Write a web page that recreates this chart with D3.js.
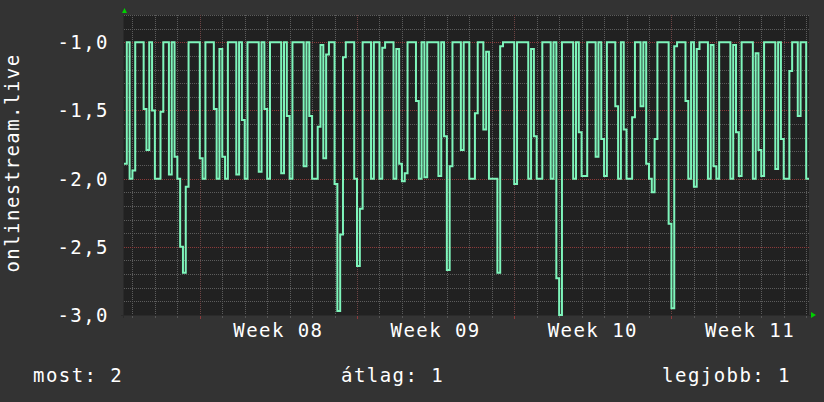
<!DOCTYPE html>
<html><head><meta charset="utf-8">
<script src="https://cdn.jsdelivr.net/npm/d3@7"></script>
<style>html,body{margin:0;padding:0;background:#333333;} svg{display:block}</style>
</head><body><svg id="c" width="824" height="402"></svg>
<script>
// ---- data ----
const startTime = "2024-02-15T15:00:00Z";
const stepHours = 3;
const values = [
 -1.89,-1.0,-2.0,-1.94,-1.0,-1.0,-1.0,-1.49,-1.79,-1.0,
 -1.5,-2.0,-2.0,-1.51,-1.0,-1.0,-1.97,-1.0,-1.84,-2.0,
 -2.5,-2.69,-2.06,-1.0,-1.0,-1.0,-1.0,-1.85,-2.0,-1.0,
 -1.0,-1.0,-1.49,-2.0,-1.05,-1.84,-2.0,-1.0,-1.0,-1.0,
 -1.97,-1.0,-1.57,-2.0,-1.0,-1.0,-1.0,-1.0,-1.95,-1.0,
 -1.49,-2.0,-1.0,-1.0,-1.0,-1.0,-1.96,-1.0,-1.54,-2.0,
 -1.0,-1.0,-1.0,-1.0,-1.91,-1.0,-1.54,-2.0,-2.0,-1.62,
 -1.02,-1.85,-1.09,-1.0,-1.0,-2.04,-2.97,-2.41,-1.11,-1.0,
 -1.0,-1.0,-2.0,-2.64,-2.22,-1.0,-1.0,-1.0,-2.0,-1.0,
 -1.0,-2.0,-1.04,-1.0,-1.0,-1.0,-2.0,-1.05,-1.89,-2.02,
 -1.96,-1.0,-1.0,-1.0,-1.43,-2.0,-1.0,-1.99,-1.0,-1.0,
 -1.0,-1.0,-1.98,-1.0,-1.69,-2.67,-1.91,-1.0,-1.0,-1.0,
 -1.79,-1.0,-1.0,-2.0,-2.0,-1.52,-1.0,-1.0,-1.64,-1.07,
 -2.0,-2.0,-2.0,-2.69,-1.03,-1.0,-1.0,-1.0,-1.0,-2.04,
 -1.0,-1.0,-1.0,-1.0,-2.0,-1.05,-1.69,-2.0,-2.0,-1.0,
 -1.0,-1.0,-2.0,-1.0,-2.73,-3.0,-1.0,-1.0,-1.0,-1.0,
 -2.0,-1.0,-1.66,-1.98,-1.98,-1.0,-1.0,-1.0,-1.84,-1.0,
 -1.71,-1.98,-1.0,-1.0,-1.0,-1.47,-2.0,-1.0,-1.64,-2.0,
 -2.0,-1.55,-1.0,-1.0,-1.47,-1.0,-1.89,-2.0,-2.1,-1.71,
 -1.0,-1.0,-1.0,-1.0,-2.33,-2.95,-1.03,-1.0,-1.0,-1.0,
 -1.43,-2.0,-1.0,-2.06,-1.05,-1.0,-1.0,-1.0,-2.0,-1.02,
 -1.91,-2.0,-1.0,-1.0,-1.0,-1.0,-2.0,-1.02,-1.66,-1.98,
 -1.0,-1.0,-1.0,-1.0,-2.0,-1.08,-1.79,-1.98,-1.0,-1.0,
 -1.0,-1.0,-1.93,-1.0,-1.71,-2.0,-2.0,-1.21,-1.0,-1.0,
 -1.54,-1.0,-1.0,-2.0
];
const yDomain = [-3.0, -0.8];
const yTicks = [-3.0, -2.5, -2.0, -1.5, -1.0];
const yTickLabels = ["-3,0", "-2,5", "-2,0", "-1,5", "-1,0"];
const weekStarts = ["2024-02-19T00:00:00Z", "2024-02-26T00:00:00Z", "2024-03-04T00:00:00Z", "2024-03-11T00:00:00Z"];
const weekLabels = ["Week 08", "Week 09", "Week 10", "Week 11"];
const yTitle = "onlinestream.live";
const legendTexts = ["most: 2", "átlag: 1", "legjobb: 1"];

// ---- layout ----
const W = 824, H = 402;
const plot = {left: 124, right: 809, top: 15, bottom: 315};
const FONT = "'DejaVu Sans Mono', monospace";
const svg = d3.select("#c");

const t0 = new Date(startTime);
const t1 = d3.utcHour.offset(t0, values.length * stepHours);
const x = d3.scaleUtc().domain([t0, t1]).range([plot.left, plot.right]);
const y = d3.scaleLinear().domain(yDomain).range([plot.bottom, plot.top]);

// background
svg.append("rect").attr("width", W).attr("height", H).attr("fill", "#333333");
svg.append("rect").attr("x", plot.left).attr("y", plot.top)
  .attr("width", plot.right - plot.left).attr("height", plot.bottom - plot.top)
  .attr("fill", "#212121");

const grid = svg.append("g").attr("shape-rendering", "crispEdges");
// minor horizontal grid every 0.1
const minorY = d3.range(-30, -7).map(d => d / 10);
grid.selectAll(".hmin").data(minorY).join("line")
  .attr("x1", plot.left).attr("x2", plot.right)
  .attr("y1", d => Math.round(y(d)) + 0.5).attr("y2", d => Math.round(y(d)) + 0.5)
  .attr("stroke", "#5c5c5c").attr("stroke-dasharray", "1,1");
// minor vertical grid every day
const days = d3.utcDay.range(d3.utcDay.ceil(t0), t1);
grid.selectAll(".vmin").data(days).join("line")
  .attr("x1", d => Math.round(x(d)) + 0.5).attr("x2", d => Math.round(x(d)) + 0.5)
  .attr("y1", plot.top).attr("y2", plot.bottom)
  .attr("stroke", "#5c5c5c").attr("stroke-dasharray", "1,1");
// major horizontal
grid.selectAll(".hmaj").data(yTicks.filter(d => d > yDomain[0])).join("line")
  .attr("x1", plot.left).attr("x2", plot.right)
  .attr("y1", d => Math.round(y(d)) + 0.5).attr("y2", d => Math.round(y(d)) + 0.5)
  .attr("stroke", "#8c3a3a").attr("stroke-dasharray", "1,1");
// major vertical (week starts)
const weeks = weekStarts.map(s => new Date(s));
grid.selectAll(".vmaj").data(weeks).join("line")
  .attr("x1", d => Math.round(x(d)) + 0.5).attr("x2", d => Math.round(x(d)) + 0.5)
  .attr("y1", plot.top).attr("y2", plot.bottom)
  .attr("stroke", "#6e4444").attr("stroke-dasharray", "1,1");

// axis lines + small ticks
grid.append("line").attr("x1", plot.left - 0.5).attr("x2", plot.left - 0.5)
  .attr("y1", plot.top).attr("y2", plot.bottom + 3).attr("stroke", "#2a2a2a");
grid.append("line").attr("x1", plot.left - 3).attr("x2", plot.right + 2)
  .attr("y1", plot.bottom + 0.5).attr("y2", plot.bottom + 0.5).attr("stroke", "#2a2a2a");
grid.selectAll(".xt").data(days).join("line")
  .attr("x1", d => Math.round(x(d)) + 0.5).attr("x2", d => Math.round(x(d)) + 0.5)
  .attr("y1", plot.bottom + 1).attr("y2", plot.bottom + 3).attr("stroke", "#555");
grid.selectAll(".xtm").data(weeks).join("line")
  .attr("x1", d => Math.round(x(d)) + 0.5).attr("x2", d => Math.round(x(d)) + 0.5)
  .attr("y1", plot.bottom + 1).attr("y2", plot.bottom + 4).attr("stroke", "#8c3a3a");

// data line
svg.append("clipPath").attr("id", "clip").append("rect")
  .attr("x", plot.left).attr("y", plot.top - 2)
  .attr("width", plot.right - plot.left).attr("height", plot.bottom - plot.top + 4);
const pts = values.map((v, i) => ({t: d3.utcHour.offset(t0, i * stepHours), v}));
pts.push({t: t1, v: values[values.length - 1]});
const line = d3.line().x(d => x(d.t)).y(d => y(d.v)).curve(d3.curveStepAfter);
svg.append("path").datum(pts).attr("d", line)
  .attr("clip-path", "url(#clip)")
  .attr("fill", "none").attr("stroke", "#7ef5bb").attr("stroke-width", 2)
  .attr("stroke-linejoin", "miter");

// arrows
svg.append("path")
  .attr("d", `M${plot.left - 2},${plot.top - 2} L${plot.left + 0.5},${plot.top - 7} L${plot.left + 3},${plot.top - 2} Z`)
  .attr("fill", "#00d000");
svg.append("path")
  .attr("d", `M${plot.right + 2},${plot.bottom - 3} L${plot.right + 7},${plot.bottom} L${plot.right + 2},${plot.bottom + 3} Z`)
  .attr("fill", "#00d000");

// texts
const txt = (sel) => sel.attr("font-family", FONT).attr("font-size", "19px")
  .attr("letter-spacing", "1.45px").attr("fill", "#ffffff");

svg.append("g").selectAll("text").data(yTicks).join("text").call(txt)
  .attr("x", 109).attr("y", d => y(d) + 7).attr("text-anchor", "end")
  .text((d, i) => yTickLabels[i]);

svg.append("g").selectAll("text").data(weeks).join("text").call(txt)
  .attr("x", d => x(d3.utcHour.offset(d, 84))).attr("y", 337).attr("text-anchor", "middle")
  .text((d, i) => weekLabels[i]);

svg.append("text").call(txt)
  .attr("transform", `translate(18.5,${(plot.top + plot.bottom) / 2 - 2}) rotate(-90)`)
  .attr("text-anchor", "middle").text(yTitle);

const legendX = [33, 341, 791];
const legendAnchor = ["start", "start", "end"];
svg.append("g").selectAll("text").data(legendTexts).join("text").call(txt)
  .attr("x", (d, i) => legendX[i]).attr("y", 381.5)
  .attr("text-anchor", (d, i) => legendAnchor[i]).text(d => d);
</script>
</body></html>
